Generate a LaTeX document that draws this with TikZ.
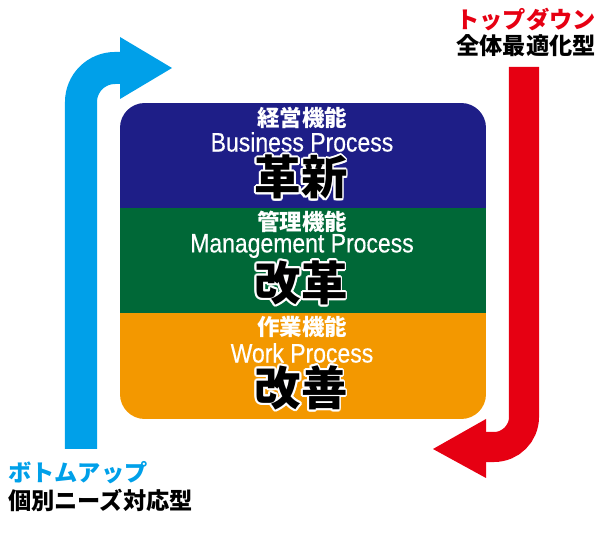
\documentclass[tikz,border=0pt]{standalone}
\usepackage{fontspec}
\usepackage{contour}
\newfontfamily\jpfont{Noto Sans CJK JP}
\newfontfamily\latinfont[FakeStretch=0.86,FakeBold=0.4]{Liberation Sans}
\contourlength{1.3pt}
\definecolor{bizblue}{RGB}{30,30,135}
\definecolor{mgmtgreen}{RGB}{0,104,55}
\definecolor{workorange}{RGB}{243,152,0}
\definecolor{upblue}{RGB}{0,160,233}
\definecolor{downred}{RGB}{230,0,18}
\begin{document}
\begin{tikzpicture}[x=0.025cm, y=-0.025cm,
        headtxt/.style={text=white, inner sep=0pt, font=\jpfont\bfseries\fontsize{16}{18}\selectfont},
        engtxt/.style={text=white, inner sep=0pt, font=\latinfont\fontsize{19}{21}\selectfont},
        bigtxt/.style={text=black, inner sep=0pt, font=\jpfont\bfseries\fontsize{33}{35}\selectfont},
        sidetxt/.style={inner sep=0pt, font=\jpfont\bfseries\fontsize{16.5}{18}\selectfont},
        shaft/.style={line width=0.8cm, rounded corners=0.85cm}
    ]
        \useasboundingbox (0,0) rectangle (600,543);

        % three bands in one rounded box
        \begin{scope}
            \clip[rounded corners=0.62cm] (120,103) rectangle (486,419);
            \fill[bizblue] (120,103) rectangle (486,208);
            \fill[mgmtgreen] (120,208) rectangle (486,313.5);
            \fill[workorange] (120,313.5) rectangle (486,419);
        \end{scope}

        \node[headtxt] (bizhead) at (302,118) {経営機能};
        \node[engtxt] (bizeng) at (302,142) {Business Process};
        \node[bigtxt] (bizbig) at (301,178) {\contour{white}{革新}};

        \node[headtxt] (mgmthead) at (302,222) {管理機能};
        \node[engtxt] (mgmteng) at (302,246) {Management Process};
        \node[bigtxt] (mgmtbig) at (301,284) {\contour{white}{改革}};

        \node[headtxt] (workhead) at (302,327) {作業機能};
        \node[engtxt] (workeng) at (302,353) {Work Process};
        \node[bigtxt] (workbig) at (301,389) {\contour{white}{改善}};

        % bottom-up arrow
        \draw[shaft, upblue] (81,449) -- (81,68) -- (122,68);
        \fill[upblue] (120,37) -- (172,68) -- (120,99) -- cycle;

        % top-down arrow
        \draw[shaft, downred, line width=0.75cm, rounded corners=0.75cm] (524,67) -- (524,447) -- (484,447);
        \fill[downred] (486,419) -- (433,449) -- (486,478) -- cycle;

        \node[sidetxt, text=downred] (downtitle) at (526,20) {トップダウン};
        \node[sidetxt, text=black] (downsub) at (526,46) {全体最適化型};
        \node[sidetxt, text=upblue, anchor=west] (uptitle) at (8,473) {ボトムアップ};
        \node[sidetxt, text=black, anchor=west] (upsub) at (8,500) {個別ニーズ対応型};
    \end{tikzpicture}
\end{document}
